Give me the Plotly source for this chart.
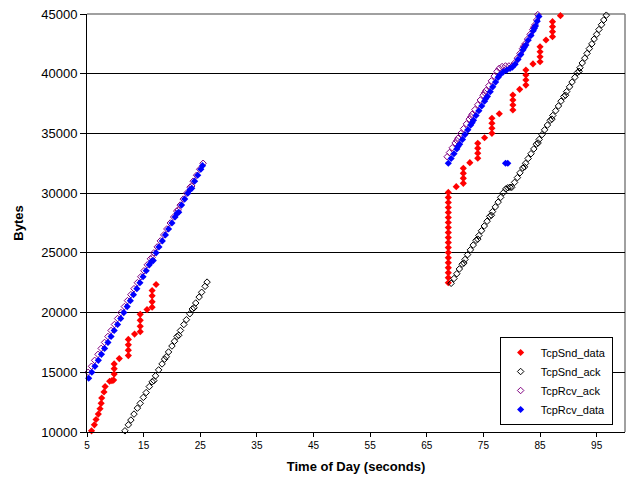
import plotly.graph_objects as go

# ---------------- data ----------------
snd_data_x = [5.8, 6.3, 6.6, 7.0, 7.3, 7.5, 7.6, 8.0, 8.2, 9.0, 9.4, 9.7, 9.8, 9.8, 9.8,
              10.7, 12.3, 12.3, 12.3, 12.3, 13.4, 14.4, 14.4, 14.4, 14.4, 15.6, 16.5, 16.5, 16.5, 16.5, 17.2,
              68.8, 68.8, 68.8, 68.8, 68.8, 68.8, 68.8, 68.8, 68.8, 68.8, 68.8, 68.8, 68.8, 68.8, 68.8,
              68.8, 68.8, 68.8, 68.8,
              70.2, 71.45, 71.45, 71.45, 71.45, 72.6, 74.0, 74.0, 74.0, 74.0, 75.2, 76.5, 76.5, 76.5, 76.5,
              77.8, 80.2, 80.2, 80.2, 80.2, 81.4, 82.5, 82.5, 82.5, 82.5, 83.75, 85.0, 85.0, 85.0, 85.0,
              86.05, 87.2, 87.2, 87.2, 87.2, 88.6]
snd_data_y = [10100, 10600, 11050, 11500, 11950, 12400, 12850, 13350, 13800, 14250, 14300, 14350, 14850, 15300, 15700,
              16150, 16400, 16850, 17300, 17750, 18200, 18400, 18850, 19350, 19850, 20250, 20450, 20900, 21400, 21850, 22350,
              22500, 22920, 23340, 23760, 24180, 24600, 25020, 25440, 25860, 26280, 26700, 27120, 27540, 27960, 28380,
              28800, 29220, 29640, 30060,
              30540, 30820, 31240, 31660, 32080, 32550, 32920, 33340, 33750, 34170, 34640, 35010, 35430, 35850, 36270,
              36650, 36960, 37380, 37800, 38220, 38690, 39050, 39470, 39890, 40310, 40820, 41000, 41420, 41840, 42260,
              42820, 43100, 43520, 43940, 44360, 44860]

snd_ack_x = [11.7, 12.3, 12.75, 13.3, 13.9, 14.4, 14.95, 15.45, 16.0, 16.5, 16.8, 17.1, 17.65, 18.25, 18.7, 19.0,
             19.4, 20.0, 20.45, 20.9, 21.2, 21.5, 22.1, 22.55, 23.15, 23.6, 23.9, 24.2, 24.8, 25.25, 25.85, 26.2,
             69.3, 69.8, 70.3, 70.75, 71.25, 71.55, 71.75, 72.2, 72.7, 73.2, 73.7, 74.0, 74.2, 74.65, 75.15, 75.65,
             76.1, 76.4, 76.6, 77.1, 77.6, 78.05, 78.55, 78.95, 79.3, 79.7, 80.0,
             80.5, 81.0, 81.45, 81.95, 82.25, 82.45, 82.9, 83.4, 83.9, 84.35, 84.65, 84.85, 85.35, 85.8, 86.3, 86.8,
             87.1, 87.25, 87.75, 88.25, 88.7, 89.2, 89.5, 89.7, 90.2, 90.65, 91.15, 91.6, 91.9, 92.05, 92.45, 92.9,
             93.3, 93.7, 94.15, 94.55, 95.0, 95.4, 95.85, 96.25, 96.7]
snd_ack_y = [10100, 10600, 11000, 11500, 12000, 12400, 12900, 13300, 13800, 14200, 14300, 14700, 15200, 15700, 16100, 16300,
             16700, 17200, 17600, 18000, 18100, 18500, 19000, 19400, 19900, 20300, 20400, 20800, 21300, 21700, 22200, 22550,
             22450, 22850, 23250, 23650, 24050, 24150, 24450, 24850, 25250, 25650, 26050, 26150, 26450, 26850, 27250, 27650,
             28050, 28150, 28450, 28850, 29250, 29650, 30050, 30350, 30450, 30490, 30490,
             30900, 31300, 31700, 32100, 32200, 32500, 32900, 33300, 33700, 34100, 34200, 34500, 34900, 35300, 35700, 36100,
             36200, 36500, 36900, 37300, 37700, 38100, 38200, 38500, 38900, 39300, 39700, 40100, 40200, 40500, 40900, 41300,
             41700, 42100, 42500, 42900, 43300, 43700, 44100, 44500, 44900]

rcv_ack_x = [5.2, 5.8, 6.35, 6.95, 7.5, 8.1, 8.7, 9.25, 9.85, 10.4, 11.0, 11.6, 12.15, 12.75, 13.3, 13.9, 14.5,
             15.05, 15.65, 16.2, 16.5, 16.8, 17.4, 17.95, 18.55, 19.1, 19.7, 20.3, 20.85, 21.1, 21.45, 22.0, 22.6,
             23.2, 23.5, 23.75, 24.35, 24.9, 25.5,
             68.6, 69.0, 69.5, 70.0, 70.3, 70.5, 71.0, 71.5, 72.0, 72.5, 72.8, 73.0, 73.5, 74.0, 74.45, 74.95, 75.2,
             75.45, 75.95, 76.4, 76.9, 77.4, 77.8, 78.3, 78.9, 79.5, 80.1, 80.5, 81.0, 81.45, 81.9, 82.1, 82.35, 82.8,
             83.25, 83.7, 83.9, 84.1, 84.4, 84.6]
rcv_ack_y = [15000, 15500, 16000, 16500, 17000, 17500, 18000, 18500, 19000, 19500, 20000, 20500, 21000, 21500, 22000, 22500, 23000,
             23500, 24000, 24500, 24600, 25000, 25500, 26000, 26500, 27000, 27500, 28000, 28500, 28600, 29000, 29500, 30000,
             30500, 30600, 31000, 31500, 32000, 32500,
             33050, 33400, 33800, 34200, 34400, 34600, 35000, 35400, 35800, 36200, 36400, 36600, 37000, 37400, 37800, 38200, 38400,
             38600, 39000, 39400, 39800, 40200, 40450, 40600, 40650, 40650, 40650, 40900, 41300, 41700, 42100, 42300, 42500, 42900,
             43300, 43700, 43900, 44100, 44500, 44950]

rcv_data_x = [5.3, 5.85, 6.4, 7.0, 7.55, 8.1, 8.7, 9.25, 9.8, 10.4, 10.95, 11.5, 12.1, 12.65, 13.2, 13.8, 14.35,
              14.9, 15.45, 16.0, 16.4, 16.7, 17.2, 17.7, 18.3, 18.85, 19.4, 20.0, 20.55, 20.9, 21.2, 21.7, 22.25,
              22.8, 23.2, 23.5, 24.0, 24.55, 25.1, 25.4,
              68.8, 69.3, 69.8, 70.3, 70.5, 70.8, 71.3, 71.75, 72.25, 72.75, 73.0, 73.25, 73.7, 74.2, 74.7, 75.2,
              75.4, 75.7, 76.2, 76.65, 77.15, 77.6, 77.9, 78.5, 79.1, 79.7, 80.1, 80.6, 81.1, 81.6, 82.0, 82.2,
              82.5, 82.9, 83.4, 83.8, 84.0, 84.2, 84.5, 84.8,
              78.9, 79.3]
rcv_data_y = [14500, 15000, 15500, 16000, 16500, 17000, 17500, 18000, 18500, 19000, 19500, 20000, 20500, 21000, 21500, 22000, 22500,
              23000, 23500, 24000, 24300, 24350, 25000, 25500, 26000, 26500, 27000, 27500, 28000, 28300, 28400, 29000, 29500,
              30000, 30300, 30400, 31000, 31500, 32000, 32300,
              32500, 32900, 33300, 33700, 33900, 34100, 34500, 34900, 35300, 35700, 35900, 36100, 36500, 36900, 37300, 37700,
              37900, 38100, 38500, 38900, 39300, 39700, 39900, 40150, 40300, 40450, 40550, 40800, 41200, 41600, 42000, 42200,
              42400, 42800, 43200, 43600, 43800, 44000, 44400, 44800,
              32500, 32500]

x_ticks = [5, 15, 25, 35, 45, 55, 65, 75, 85, 95]
y_ticks = [10000, 15000, 20000, 25000, 30000, 35000, 40000, 45000]

FONT = "Arial, Liberation Sans, sans-serif"

fig = go.Figure()
fig.add_trace(go.Scatter(x=snd_data_x, y=snd_data_y, mode="markers", name="TcpSnd_data", cliponaxis=False,
                         marker=dict(symbol="diamond", size=5.5, color="#FF0000", line=dict(width=0))))
fig.add_trace(go.Scatter(x=snd_ack_x, y=snd_ack_y, mode="markers", name="TcpSnd_ack", cliponaxis=False,
                         marker=dict(symbol="diamond-open", size=5, color="#000000", line=dict(width=1, color="#000000"))))
fig.add_trace(go.Scatter(x=rcv_ack_x, y=rcv_ack_y, mode="markers", name="TcpRcv_ack", cliponaxis=False,
                         marker=dict(symbol="diamond-open", size=5, color="#800080", line=dict(width=1, color="#800080"))))
fig.add_trace(go.Scatter(x=rcv_data_x, y=rcv_data_y, mode="markers", name="TcpRcv_data", cliponaxis=False,
                         marker=dict(symbol="diamond", size=5.5, color="#0000FF", line=dict(width=0))))

fig.update_layout(
    width=627, height=478,
    margin=dict(l=87, r=2, t=14, b=46, pad=0, autoexpand=False),
    paper_bgcolor="white", plot_bgcolor="white",
    font=dict(family=FONT, color="black"),
    showlegend=True,
    legend=dict(x=0.872, y=0.122, xanchor="center", yanchor="middle",
                bgcolor="white", bordercolor="black", borderwidth=1,
                font=dict(family=FONT, size=11, color="black"),
                itemsizing="trace", itemwidth=30, tracegroupgap=0),
    xaxis=dict(range=[5, 100], tickmode="array", tickvals=x_ticks,
               ticktext=[str(v) for v in x_ticks], automargin=False,
               showgrid=False, zeroline=False,
               showline=True, linecolor="black", linewidth=1,
               ticks="outside", ticklen=4, tickcolor="black",
               tickfont=dict(size=10, family=FONT),
               title=dict(text="<b>Time of Day (seconds)</b>", font=dict(size=13, family=FONT), standoff=11)),
    yaxis=dict(range=[10000, 45000], tickmode="array", tickvals=y_ticks,
               ticktext=[str(v) for v in y_ticks], automargin=False,
               showgrid=True, gridcolor="black", gridwidth=1, zeroline=False,
               showline=True, linecolor="black", linewidth=1,
               ticks="outside", ticklen=6, tickcolor="black",
               tickfont=dict(size=13, family=FONT),
               title=dict(text="<b>Bytes</b>", font=dict(size=13, family=FONT), standoff=14)),
    shapes=[
        dict(type="line", xref="paper", yref="paper", x0=0, x1=1, y0=1, y1=1,
             line=dict(color="#808080", width=1.5), layer="below"),
        dict(type="line", xref="paper", yref="paper", x0=1, x1=1, y0=0, y1=1,
             line=dict(color="#808080", width=1.5), layer="below"),
    ],
)

fig.write_html("out.html", config={"displayModeBar": False},
               post_script="document.body.style.margin='0px';document.body.style.padding='0px';")
